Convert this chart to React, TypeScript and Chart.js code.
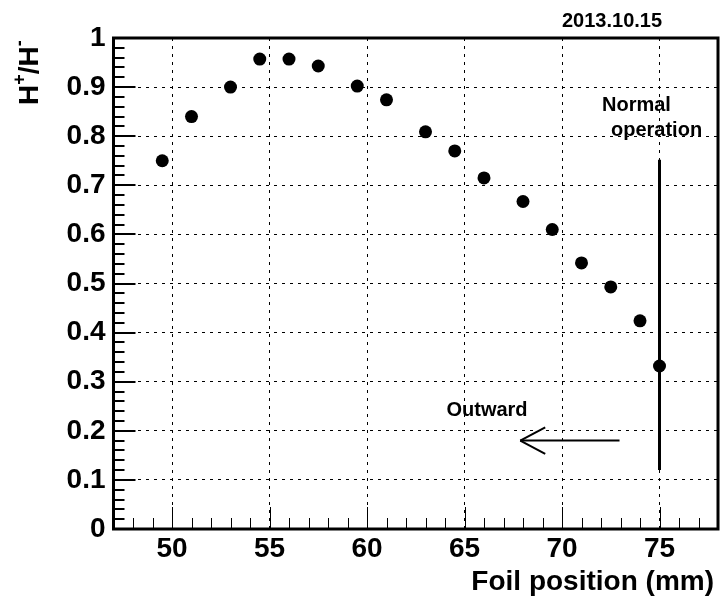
import { useEffect, useRef } from "react";
import { Chart, registerables } from "chart.js";

Chart.register(...registerables);

// Measured H+/H- ratio against foil position
const foilPosition = [49.5, 51, 53, 54.5, 56, 57.5, 59.5, 61, 63, 64.5, 66, 68, 69.5, 71, 72.5, 74, 75];
const ratio = [0.75, 0.84, 0.9, 0.957, 0.957, 0.943, 0.902, 0.874, 0.809, 0.77, 0.715, 0.667, 0.61, 0.542, 0.493, 0.424, 0.332];

// Axis ranges and labelled ticks
const xRange = [47, 78];
const yRange = [0, 1];
const xTicks = [50, 55, 60, 65, 70, 75];
const yTicks = [0, 0.1, 0.2, 0.3, 0.4, 0.5, 0.6, 0.7, 0.8, 0.9, 1];

// Normal operation marker (vertical bar at the operating position)
const normalOpX = 75;
const normalOpY = [0.12, 0.752];

// "Outward" arrow, in data units
const arrowY = 0.18;
const arrowTail = 72.95;
const arrowTip = 67.86;
const arrowHeadBack = 69.14;
const arrowHeadHalf = 0.027;

const FONT = "'Liberation Sans', Arial, Helvetica, sans-serif";

const rootStyle = {
  id: "rootStyle",
  afterDatasetsDraw(chart: any) {
    const { ctx, chartArea: a, scales } = chart;
    const x = scales.x;
    const y = scales.y;
    ctx.save();
    ctx.strokeStyle = "#000";
    ctx.fillStyle = "#000";
    ctx.setLineDash([]);

    const seg = (x1: number, y1: number, x2: number, y2: number) => {
      ctx.beginPath();
      ctx.moveTo(x1, y1);
      ctx.lineTo(x2, y2);
      ctx.stroke();
    };

    // inward ticks on the x axis: minor every 1 mm, major every 5 mm
    ctx.lineWidth = 1;
    for (let v = Math.ceil(xRange[0]); v <= Math.floor(xRange[1]); v++) {
      const px = Math.round(x.getPixelForValue(v)) + 0.5;
      const len = v % 5 === 0 ? 22 : 11;
      seg(px, a.bottom, px, a.bottom - len);
    }
    // inward ticks on the y axis: minor every 0.02, major every 0.1
    ctx.lineWidth = 2;
    for (let i = 1; i < 50; i++) {
      const py = Math.round(y.getPixelForValue(i / 50));
      const len = i % 5 === 0 ? 22 : 11;
      seg(a.left, py, a.left + len, py);
    }

    // frame
    ctx.lineWidth = 3;
    ctx.strokeRect(a.left, a.top, a.right - a.left, a.bottom - a.top);

    // arrow
    ctx.lineWidth = 2;
    const ay = y.getPixelForValue(arrowY);
    const tip = x.getPixelForValue(arrowTip);
    seg(x.getPixelForValue(arrowTail), ay, tip, ay);
    const back = x.getPixelForValue(arrowHeadBack);
    seg(tip, ay, back, y.getPixelForValue(arrowY + arrowHeadHalf));
    seg(tip, ay, back, y.getPixelForValue(arrowY - arrowHeadHalf));

    // annotations
    ctx.textBaseline = "alphabetic";
    ctx.font = `bold 20px ${FONT}`;
    ctx.textAlign = "left";
    ctx.fillText("2013.10.15", 562, 27);
    ctx.fillText("Normal", 602, 111);
    ctx.fillText("operation", 611, 136);
    ctx.textAlign = "center";
    ctx.fillText("Outward", 487, 416);

    // x axis title, right-aligned under the frame
    ctx.font = `bold 28px ${FONT}`;
    ctx.textAlign = "right";
    ctx.fillText("Foil position (mm)", a.right - 4, 590);

    // y axis title with superscripts
    ctx.translate(37.5, 105);
    ctx.rotate(-Math.PI / 2);
    ctx.textAlign = "left";
    const big = `bold 28px ${FONT}`;
    const small = `bold 18px ${FONT}`;
    let cx = 0;
    const put = (t: string, f: string, dy: number) => {
      ctx.font = f;
      ctx.fillText(t, cx, dy);
      cx += ctx.measureText(t).width;
    };
    put("H", big, 0);
    put("+", small, -13);
    put("/H", big, 0);
    put("-", small, -13);
    ctx.restore();
  },
};

export default function App() {
  const ref = useRef<HTMLCanvasElement>(null);

  useEffect(() => {
    if (!ref.current) return;
    const chart = new Chart(ref.current, {
      type: "scatter",
      data: {
        datasets: [
          {
            data: foilPosition.map((v, i) => ({ x: v, y: ratio[i] })),
            backgroundColor: "#000",
            borderColor: "#000",
            borderWidth: 0,
            pointRadius: 6.5,
            pointHoverRadius: 6.5,
          },
          {
            data: normalOpY.map((v) => ({ x: normalOpX, y: v })),
            showLine: true,
            borderColor: "#000",
            borderWidth: 3,
            pointRadius: 0,
            pointHoverRadius: 0,
          },
        ],
      },
      options: {
        responsive: false,
        animation: false,
        events: [],
        layout: { autoPadding: false, padding: { top: 38, right: 3, left: 0, bottom: 0 } },
        plugins: { legend: { display: false }, tooltip: { enabled: false } },
        scales: {
          x: {
            type: "linear",
            min: xRange[0],
            max: xRange[1],
            afterBuildTicks: (s: any) => {
              s.ticks = xTicks.map((v) => ({ value: v }));
            },
            afterFit: (s: any) => {
              s.height = 76;
              s.paddingLeft = 0;
              s.paddingRight = 0;
            },
            grid: { color: "#000", lineWidth: 1, drawTicks: false },
            border: { display: false, dash: [3, 5] },
            ticks: {
              color: "#000",
              font: { family: FONT, size: 28, weight: "bold" },
              padding: 3,
              autoSkip: false,
              maxRotation: 0,
              callback: (v: any) => String(v),
            },
          },
          y: {
            type: "linear",
            min: yRange[0],
            max: yRange[1],
            afterBuildTicks: (s: any) => {
              s.ticks = yTicks.map((v) => ({ value: v }));
            },
            afterFit: (s: any) => {
              s.width = 113.5;
            },
            grid: { color: "#000", lineWidth: 1, drawTicks: false },
            border: { display: false, dash: [3, 5] },
            ticks: {
              color: "#000",
              font: { family: FONT, size: 28, weight: "bold" },
              padding: 8,
              autoSkip: false,
              callback: (v: any) => String(Number(Number(v).toFixed(2))),
            },
          },
        },
      },
      plugins: [rootStyle],
    });
    return () => chart.destroy();
  }, []);

  return (
    <div style={{ position: "fixed", left: 0, top: 0, width: 721, height: 605, background: "#fff" }}>
      <canvas ref={ref} width={721} height={605} style={{ display: "block" }} />
    </div>
  );
}
